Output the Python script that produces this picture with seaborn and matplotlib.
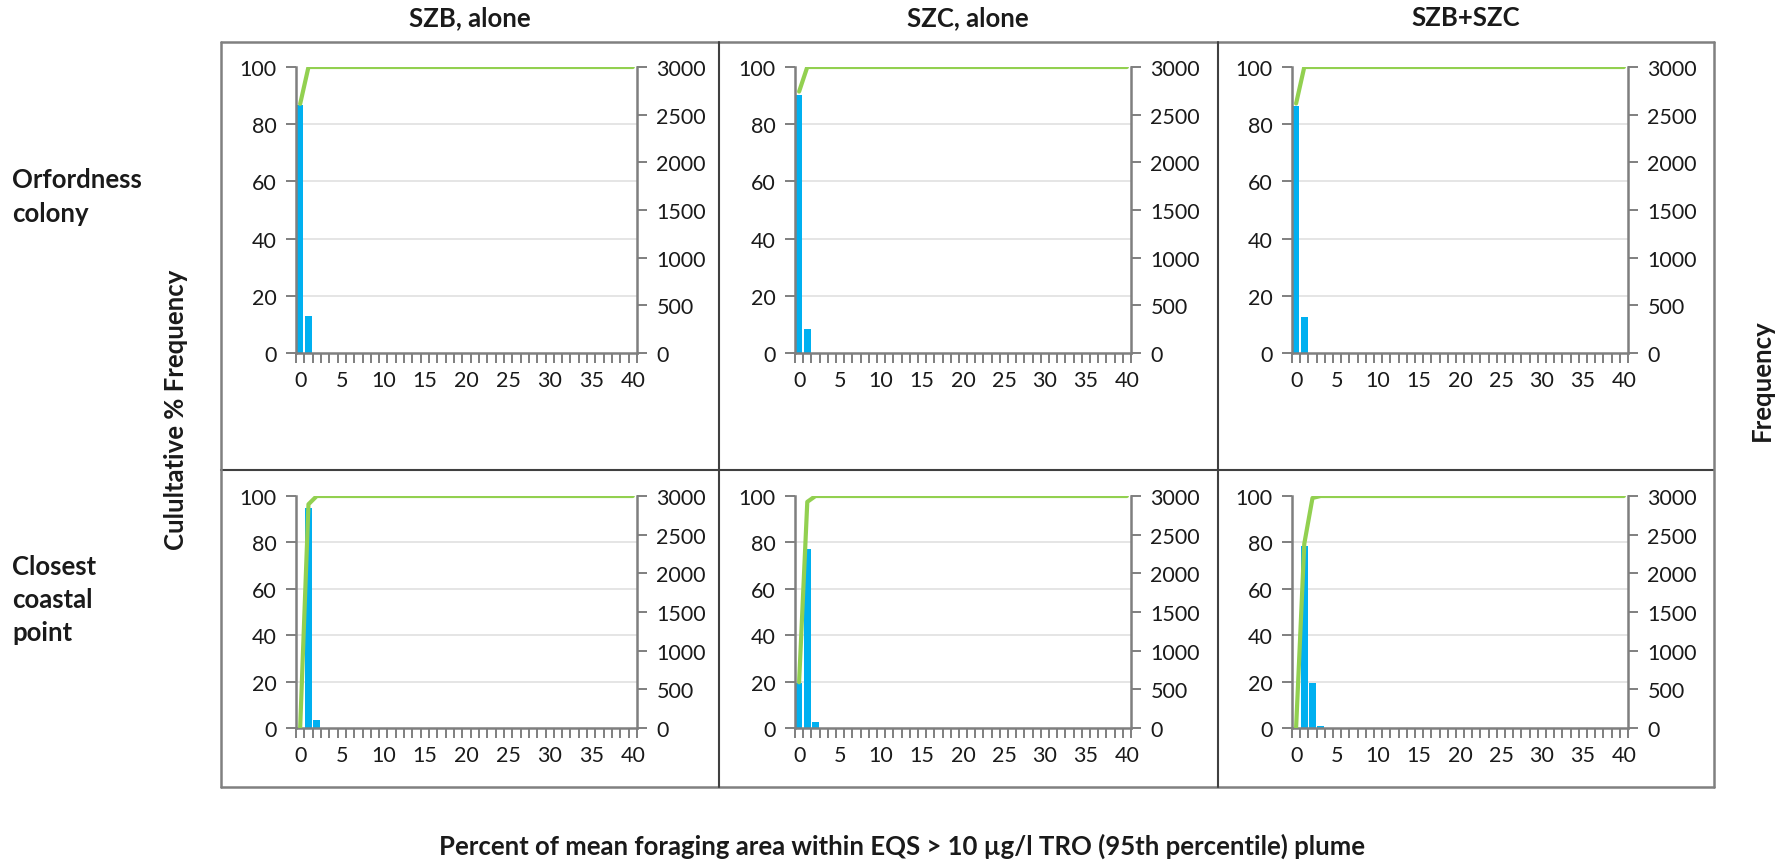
import numpy as np
import matplotlib
matplotlib.use("Agg")
import matplotlib.pyplot as plt
import seaborn as sns
from matplotlib.lines import Line2D

sns.set_theme(style="white")
plt.rcParams['font.family'] = ['Lato', 'DejaVu Sans']

# ---- data -------------------------------------------------------------
n_bins = 41
bins = list(range(n_bins))                      # % of foraging area in plume
col_titles = ["SZB, alone", "SZC, alone", "SZB+SZC"]
row_titles = ["Orfordness\ncolony", "Closest\ncoastal\npoint"]
xtick_vals = [0, 5, 10, 15, 20, 25, 30, 35, 40]
pct_ticks = [0, 20, 40, 60, 80, 100]
freq_ticks = [0, 500, 1000, 1500, 2000, 2500, 3000]

# frequency of each bin (leading bins; all later bins are zero)
freq_orf_szb = [2600, 385]
freq_orf_szc = [2710, 255]
freq_orf_both = [2595, 380]
freq_cst_szb = [0, 2850, 105]
freq_cst_szc = [585, 2310, 75]
freq_cst_both = [0, 2355, 585, 25]

panels = [[freq_orf_szb, freq_orf_szc, freq_orf_both],
          [freq_cst_szb, freq_cst_szc, freq_cst_both]]

BAR = "#00B0F0"
LINE = "#92D050"
AXC = "#7F7F7F"
GRID = "#E3E3E3"
TXT = "#1A1A1A"
TICK_FS = 15.5
LABEL_FS = 18.5

W, H = 1780, 862
fig = plt.figure(figsize=(W / 100, H / 100), dpi=100)

# axes boxes in pixels: (left, right) and (top, bottom)
col_x = [(296, 637), (795, 1131), (1292, 1628)]
row_y = [(68, 354), (497, 729)]


def fx(px):
    return px / W


def fy(py):
    return 1 - py / H


for r, (y0, y1) in enumerate(row_y):
    for c, (x0, x1) in enumerate(col_x):
        freq = panels[r][c] + [0] * (n_bins - len(panels[r][c]))
        freq = np.array(freq, dtype=float)
        cum = np.cumsum(freq) / freq.sum() * 100

        ax_f = fig.add_axes([fx(x0), fy(y1), fx(x1) - fx(x0), fy(y0) - fy(y1)])
        ax_c = ax_f.twinx()

        sns.barplot(x=bins, y=freq, ax=ax_f, color=BAR, saturation=1,
                    width=0.8, native_scale=True, linewidth=0)
        sns.lineplot(x=bins, y=cum, ax=ax_c, color=LINE, linewidth=3.0,
                     legend=False)

        ax_f.set_xlim(-0.5, n_bins - 0.5)
        ax_f.set_ylim(0, freq_ticks[-1])
        ax_c.set_ylim(0, pct_ticks[-1])

        # frequency axis on the right, cumulative % on the left
        ax_f.yaxis.tick_right()
        ax_c.yaxis.tick_left()
        ax_f.set_yticks(freq_ticks)
        ax_c.set_yticks(pct_ticks)

        # horizontal gridlines follow the cumulative % ticks
        scale = freq_ticks[-1] / pct_ticks[-1]
        ax_f.set_yticks([t * scale for t in pct_ticks[1:-1]], minor=True)
        ax_f.grid(which="minor", axis="y", color=GRID, linewidth=1.3)
        ax_f.grid(which="major", axis="both", visible=False)
        ax_f.set_axisbelow(True)

        ax_f.set_xticks(xtick_vals)
        ax_f.set_xticklabels([str(v) for v in xtick_vals])
        ax_f.set_xticks(np.arange(-0.5, n_bins, 1.0), minor=True)

        ax_f.tick_params(axis="x", which="major", length=0, pad=12,
                         labelsize=TICK_FS, labelcolor=TXT, bottom=True)
        ax_f.tick_params(axis="x", which="minor", length=7, width=1.4,
                         color=AXC, direction="out", bottom=True)
        ax_f.tick_params(axis="y", which="major", length=7, width=1.4,
                         color=AXC, direction="out", pad=7, labelsize=TICK_FS,
                         labelcolor=TXT, right=True, left=False)
        ax_f.tick_params(axis="y", which="minor", length=0)
        ax_c.tick_params(axis="y", which="major", length=7, width=1.4,
                         color=AXC, direction="out", pad=7, labelsize=TICK_FS,
                         labelcolor=TXT, left=True, right=False)

        ax_f.set_xlabel("")
        ax_f.set_ylabel("")
        ax_c.set_xlabel("")
        ax_c.set_ylabel("")

        for name, sp in ax_f.spines.items():
            sp.set_visible(name in ("bottom", "right"))
            sp.set_color(AXC)
            sp.set_linewidth(1.8)
        for name, sp in ax_c.spines.items():
            sp.set_visible(name == "left")
            sp.set_color(AXC)
            sp.set_linewidth(1.8)

# ---- table frame around the panels ------------------------------------
TL, TR, TT, TM, TB = 221, 1714, 43, 471, 788
DIV = [719, 1218]
frame_kw = dict(color="#808080", linewidth=1.8, transform=fig.transFigure)
fig.add_artist(Line2D([fx(TL), fx(TR)], [fy(TT), fy(TT)], **frame_kw))
fig.add_artist(Line2D([fx(TL), fx(TR)], [fy(TM), fy(TM)], color="#404040",
                      linewidth=1.5, transform=fig.transFigure))
fig.add_artist(Line2D([fx(TL), fx(TR)], [fy(TB), fy(TB)], **frame_kw))
fig.add_artist(Line2D([fx(TL), fx(TL)], [fy(TT), fy(TB)], **frame_kw))
fig.add_artist(Line2D([fx(TR), fx(TR)], [fy(TT), fy(TB)], **frame_kw))
for d in DIV:
    fig.add_artist(Line2D([fx(d), fx(d)], [fy(TT), fy(TB)], color="#404040",
                          linewidth=1.5, transform=fig.transFigure))

# ---- titles and labels ------------------------------------------------
title_x = [470, 968, 1466]
for t, x in zip(col_titles, title_x):
    fig.text(fx(x), fy(18), t, ha="center", va="center", fontsize=LABEL_FS,
             fontweight="bold", color=TXT)

fig.text(fx(12), fy(197), row_titles[0], ha="left", va="center",
         fontsize=LABEL_FS, fontweight="bold", color=TXT, linespacing=1.45)
fig.text(fx(12), fy(600), row_titles[1], ha="left", va="center",
         fontsize=LABEL_FS, fontweight="bold", color=TXT, linespacing=1.45)

fig.text(fx(176), fy(410), "Culultative % Frequency", rotation=90,
         ha="center", va="center", fontsize=LABEL_FS, fontweight="bold",
         color=TXT)
fig.text(fx(1762), fy(380), "Frequency", rotation=90, ha="center",
         va="center", fontsize=LABEL_FS, fontweight="bold", color=TXT)

fig.text(fx(902), fy(846),
         "Percent of mean foraging area within EQS > 10 \u00b5g/l TRO "
         "(95th percentile) plume",
         ha="center", va="center", fontsize=LABEL_FS, fontweight="bold",
         color=TXT)

fig.savefig("out.png", dpi=100, facecolor="white")
